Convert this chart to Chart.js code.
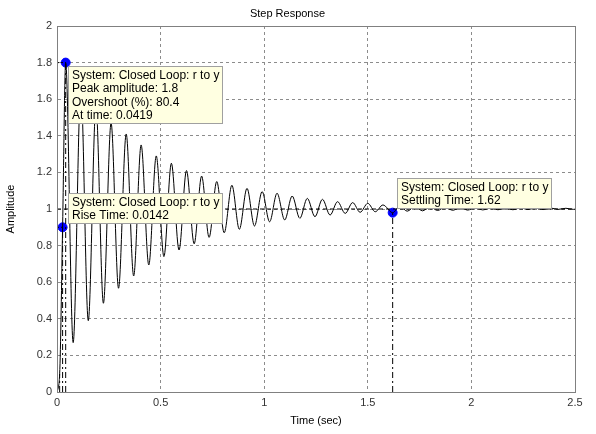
<!DOCTYPE html>
<html>
<head>
<meta charset="utf-8">
<script src="https://cdn.jsdelivr.net/npm/chart.js@4.4.1/dist/chart.umd.min.js"></script>
<style>
html,body{margin:0;padding:0;background:#fff;}
#wrap{width:596px;height:434px;}
</style>
</head>
<body>
<div id="wrap"><canvas id="c" width="596" height="434"></canvas></div>
<script>
// ---- data ----
const respTime = [0, 0.0128, 0.027, 0.0419, 0.078, 0.115, 0.151, 0.188, 0.224, 0.261, 0.297, 0.334, 0.370, 0.406, 0.443, 0.479, 0.516, 0.552, 0.589, 0.625, 0.662, 0.698, 0.734, 0.771, 0.807, 0.844, 0.880, 0.917, 0.953, 0.990, 1.026, 1.062, 1.099, 1.135, 1.172, 1.208, 1.245, 1.281, 1.318, 1.354, 1.391, 1.427, 1.463, 1.500, 1.536, 1.573, 1.62, 1.655, 1.69, 1.728, 1.764, 1.80, 1.837, 1.873, 1.91, 1.946, 1.982, 2.019, 2.055, 2.092, 2.128, 2.165, 2.2, 2.237, 2.273, 2.31, 2.346, 2.383, 2.419, 2.456, 2.492, 2.5];
const respAmp  = [0, 0.1, 0.9, 1.8, 0.27, 1.66, 0.39, 1.56, 0.485, 1.47, 0.567, 1.41, 0.634, 1.35, 0.694, 1.29, 0.74, 1.25, 0.776, 1.21, 0.81, 1.18, 0.845, 1.15, 0.87, 1.13, 0.889, 1.113, 0.907, 1.095, 0.93, 1.086, 0.94, 1.071, 0.949, 1.058, 0.958, 1.053, 0.967, 1.04, 0.976, 1.035, 0.982, 1.031, 0.985, 1.022, 0.98, 1.016, 0.988, 1.014, 0.99, 1.012, 0.992, 1.01, 0.993, 1.009, 0.994, 1.008, 0.995, 1.007, 0.996, 1.006, 0.996, 1.006, 0.997, 1.005, 0.997, 1.005, 0.998, 1.004, 0.998, 0.999];

const peakTime = 0.0419, peakAmp = 1.8;
const riseStartTime = 0.0128, riseEndTime = 0.027, riseAmp = 0.9;
const settleTime = 1.62, settleAmp = 0.98;
const steadyValue = 1.0;

const xTicks = [0, 0.5, 1, 1.5, 2, 2.5];
const xTickLabels = ['0', '0.5', '1', '1.5', '2', '2.5'];
const yTicks = [0, 0.2, 0.4, 0.6, 0.8, 1, 1.2, 1.4, 1.6, 1.8, 2];
const yTickLabels = ['0', '0.2', '0.4', '0.6', '0.8', '1', '1.2', '1.4', '1.6', '1.8', '2'];

const noteSystem = 'System: Closed Loop: r to y';
const notePeak = ['Peak amplitude: 1.8', 'Overshoot (%): 80.4', 'At time: 0.0419'];
const noteRise = ['Rise Time: 0.0142'];
const noteSettle = ['Settling Time: 1.62'];

// ---- build datasets ----
const respPts = respTime.map((t, i) => ({x: t, y: respAmp[i]}));
const FONT = '"Liberation Sans", Arial, sans-serif';
const dashDot = [6, 3, 2, 3];

function refLine(pts, dash) {
  return {type: 'line', data: pts, borderColor: '#000', borderWidth: 1, borderDash: dash,
          pointRadius: 0, tension: 0, fill: false};
}

const datasets = [
  refLine([{x: 0, y: steadyValue}, {x: 2.5, y: steadyValue}], [4, 3]),
  refLine([{x: peakTime, y: 0}, {x: peakTime, y: peakAmp}], dashDot),
  refLine([{x: 0, y: peakAmp}, {x: peakTime, y: peakAmp}], [2, 2]),
  refLine([{x: riseStartTime, y: 0}, {x: riseStartTime, y: 0.1}], dashDot),
  refLine([{x: riseEndTime, y: 0}, {x: riseEndTime, y: riseAmp}], dashDot),
  refLine([{x: 0, y: riseAmp}, {x: riseEndTime, y: riseAmp}], [2, 2]),
  refLine([{x: settleTime, y: 0}, {x: settleTime, y: settleAmp}], dashDot),
  {type: 'line', data: respPts, borderColor: '#000', borderWidth: 1, pointRadius: 0,
   cubicInterpolationMode: 'monotone', fill: false},
  {type: 'scatter', data: [{x: peakTime, y: peakAmp}, {x: riseEndTime, y: riseAmp}, {x: settleTime, y: settleAmp}],
   backgroundColor: '#0000ff', borderColor: '#0000ff', pointRadius: 4.5, pointHoverRadius: 4.5}
];

// annotation boxes anchored in data coordinates (top-left corner)
const notes = [
  {t: 0.053, v: 1.78, lines: [noteSystem].concat(notePeak)},
  {t: 0.053, v: 1.087, lines: [noteSystem].concat(noteRise)},
  {t: 1.641, v: 1.169, lines: [noteSystem].concat(noteSettle)}
];

const framePlugin = {
  id: 'frame',
  afterDatasetsDraw(chart) {
    const {ctx, chartArea: a, scales} = chart;
    ctx.save();
    // box frame
    ctx.strokeStyle = '#808080';
    ctx.lineWidth = 1;
    ctx.setLineDash([]);
    ctx.strokeRect(Math.round(a.left) + 0.5, Math.round(a.top) + 0.5, Math.round(a.right - a.left), Math.round(a.bottom - a.top));
    // annotation boxes
    ctx.font = '12px ' + FONT;
    ctx.textBaseline = 'middle';
    notes.forEach(n => {
      const x = Math.round(scales.x.getPixelForValue(n.t)) + 0.5;
      const y = Math.round(scales.y.getPixelForValue(n.v)) + 0.5;
      let w = 0;
      n.lines.forEach(l => { w = Math.max(w, ctx.measureText(l).width); });
      const lh = 13.5;
      const bw = Math.round(w + 7), bh = Math.round(n.lines.length * lh + 3);
      ctx.fillStyle = '#ffffe1';
      ctx.fillRect(x, y, bw, bh);
      ctx.strokeStyle = '#a0a0a0';
      ctx.strokeRect(x, y, bw, bh);
      ctx.fillStyle = '#000';
      n.lines.forEach((l, i) => ctx.fillText(l, x + 3.5, y + 2 + lh * (i + 0.5)));
    });
    ctx.restore();
  }
};

new Chart(document.getElementById('c'), {
  data: {datasets},
  options: {
    responsive: false,
    animation: false,
    events: [],
    layout: {padding: {left: 0, right: 21, top: 0, bottom: 0}},
    plugins: {
      legend: {display: false},
      tooltip: {enabled: false},
      title: {display: true, text: 'Step Response', color: '#000',
              font: {family: FONT, size: 11, weight: 'normal'}, padding: {top: 7, bottom: 5.8}}
    },
    scales: {
      x: {
        type: 'linear', min: 0, max: 2.5,
        afterBuildTicks: s => { s.ticks = xTicks.map(v => ({value: v})); },
        afterFit: s => { s.height = 42; },
        ticks: {color: '#333', font: {family: FONT, size: 11}, padding: 4, maxRotation: 0,
                callback: (v) => xTickLabels[xTicks.indexOf(v)]},
        grid: {color: '#8c8c8c', drawTicks: false, lineWidth: 1},
        border: {display: true, color: '#808080', dash: [3, 3]},
        title: {display: true, text: 'Time (sec)', color: '#000', font: {family: FONT, size: 11}, padding: {top: 2, bottom: 6}}
      },
      y: {
        type: 'linear', min: 0, max: 2,
        afterBuildTicks: s => { s.ticks = yTicks.map(v => ({value: v})); },
        afterFit: s => { s.width = 57; },
        ticks: {color: '#333', font: {family: FONT, size: 11}, padding: 5,
                callback: (v) => yTickLabels[yTicks.indexOf(v)]},
        grid: {color: '#8c8c8c', drawTicks: false, lineWidth: 1},
        border: {display: true, color: '#808080', dash: [3, 3]},
        title: {display: true, text: 'Amplitude', color: '#000', font: {family: FONT, size: 11}, padding: {top: 4, bottom: 0}}
      }
    }
  },
  plugins: [framePlugin]
});
</script>
</body>
</html>
